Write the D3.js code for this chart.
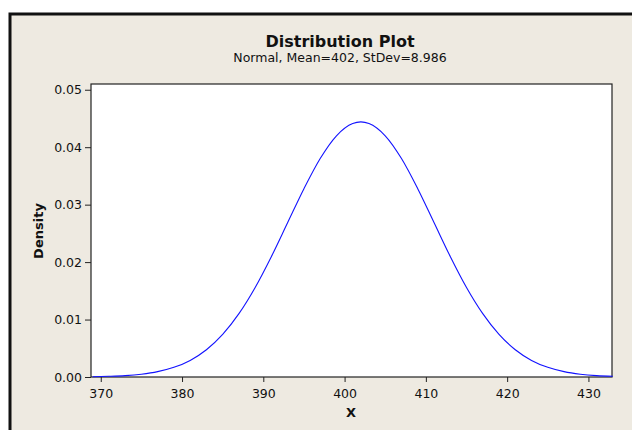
<!DOCTYPE html>
<html>
<head>
<title>Distribution Plot</title>
<script src="https://d3js.org/d3.v7.min.js"></script>
<style>
  body { margin: 0; background: #fff; }
  svg text { font-family: "DejaVu Sans", sans-serif; fill: #111; }
</style>
</head>
<body>
<div id="vis"></div>
<script>
// values
var xValues = [369, 371, 373, 375, 377, 379, 381, 383, 385, 387, 389, 391, 393, 395, 397, 399, 401, 402,
               403, 405, 407, 409, 411, 413, 415, 417, 419, 421, 423, 425, 427, 429, 431, 433];
var densityValues = [0.00005, 0.00012, 0.00024, 0.00049, 0.00093, 0.00168, 0.00289, 0.00475, 0.00742, 0.01103,
                     0.01559, 0.02099, 0.02689, 0.03278, 0.03803, 0.04199, 0.04413, 0.04440,
                     0.04413, 0.04199, 0.03803, 0.03278, 0.02689, 0.02099, 0.01559, 0.01103, 0.00742, 0.00475,
                     0.00289, 0.00168, 0.00093, 0.00049, 0.00024, 0.00012];
var xTicks = [370, 380, 390, 400, 410, 420, 430];
var yTicks = [0, 0.01, 0.02, 0.03, 0.04, 0.05];
var titleText = "Distribution Plot";
var subtitleText = "Normal, Mean=402, StDev=8.986";

var W = 632, H = 430;
var plot = {left: 91, top: 84, right: 612, bottom: 377};

var svg = d3.select("#vis").append("svg")
  .attr("width", W)
  .attr("height", H);

// outer frame
svg.append("rect")
  .attr("x", 10).attr("y", 14)
  .attr("width", W + 20).attr("height", H + 20)
  .attr("fill", "#eeeae1")
  .attr("stroke", "#111")
  .attr("stroke-width", 3);

// plot area
svg.append("rect")
  .attr("x", plot.left).attr("y", plot.top)
  .attr("width", plot.right - plot.left).attr("height", plot.bottom - plot.top)
  .attr("fill", "#fff")
  .attr("stroke", "#222")
  .attr("stroke-width", 1.2);

var x = d3.scaleLinear().domain([368.8, 432.9]).range([plot.left, plot.right]);
var y = d3.scaleLinear().domain([0, 0.051]).range([plot.bottom, plot.top]);

var xAxis = svg.append("g")
  .attr("transform", "translate(0," + plot.bottom + ")")
  .call(d3.axisBottom(x).tickValues(xTicks).tickSize(5).tickPadding(7).tickFormat(d3.format("d")));
var yAxis = svg.append("g")
  .attr("transform", "translate(" + plot.left + ",0)")
  .call(d3.axisLeft(y).tickValues(yTicks).tickSize(6).tickPadding(3).tickFormat(d3.format(".2f")));

[xAxis, yAxis].forEach(function(g) {
  g.select(".domain").remove();
  g.selectAll("line").attr("stroke", "#222");
  g.selectAll("text").attr("font-size", 12.5).attr("font-family", "DejaVu Sans").attr("fill", "#111");
});

// curve
var pts = xValues.map(function(v, i) { return [v, densityValues[i]]; });
svg.append("path")
  .datum(pts)
  .attr("fill", "none")
  .attr("stroke", "#1212ff")
  .attr("stroke-width", 1.1)
  .attr("d", d3.line()
    .x(function(d) { return x(d[0]); })
    .y(function(d) { return y(d[1]); })
    .curve(d3.curveMonotoneX));

// titles
svg.append("text")
  .attr("x", 340).attr("y", 47)
  .attr("text-anchor", "middle")
  .attr("font-size", 16).attr("font-weight", "bold")
  .text(titleText);
svg.append("text")
  .attr("x", 340).attr("y", 62)
  .attr("text-anchor", "middle")
  .attr("font-size", 12.5)
  .text(subtitleText);

// axis labels
svg.append("text")
  .attr("x", 351).attr("y", 417)
  .attr("text-anchor", "middle")
  .attr("font-size", 13).attr("font-weight", "bold")
  .text("X");
svg.append("text")
  .attr("transform", "translate(43,231) rotate(-90)")
  .attr("text-anchor", "middle")
  .attr("font-size", 13).attr("font-weight", "bold")
  .text("Density");
</script>
</body>
</html>
